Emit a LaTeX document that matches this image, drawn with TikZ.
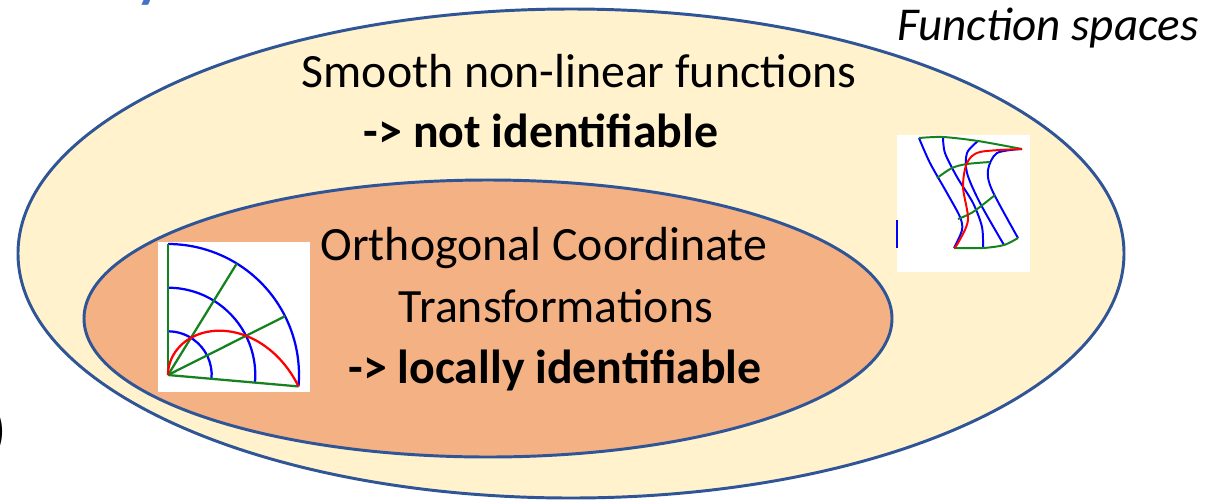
\documentclass[tikz,border=0pt]{standalone}
\usepackage{fontspec}
\setmainfont{Carlito}
\definecolor{edgeblue}{RGB}{47,85,151}
\definecolor{outerfill}{RGB}{255,242,204}
\definecolor{innerfill}{RGB}{244,177,131}
\definecolor{titleblue}{RGB}{68,114,196}
\definecolor{gridgreen}{RGB}{20,130,30}
\begin{document}
\begin{tikzpicture}[x=0.025cm,y=-0.025cm]
\clip (0,0) rectangle (1211,502);
\fill[white] (0,0) rectangle (1211,502);
\node[anchor=base, text=titleblue, font=\fontsize{40}{48}\selectfont\bfseries] (ttl) at (150,-4){y};
\node[anchor=east, inner sep=0pt, font=\fontsize{40}{48}\selectfont\bfseries] (paren) at (6,432){)};
\draw[edgeblue, line width=2.1pt, fill=outerfill] (571,253.5) ellipse [x radius=553, y radius=244.5];
\draw[edgeblue, line width=2.1pt, fill=innerfill] (488,318.5) ellipse [x radius=404, y radius=138.5];
\node[anchor=base, font=\fontsize{34}{40}\selectfont] (smooth) at (579,87){Smooth non-linear functions};
\node[anchor=base, font=\fontsize{34}{40}\selectfont\bfseries] (notid) at (541,147){-> not identifiable};
\node[anchor=base, font=\fontsize{34}{40}\selectfont] (orth) at (544,260){Orthogonal Coordinate};
\node[anchor=base, font=\fontsize{34}{40}\selectfont] (trans) at (556,322){Transformations};
\node[anchor=base, font=\fontsize{34}{40}\selectfont\bfseries] (locid) at (555,383){-> locally identifiable};
\node[anchor=base, font=\fontsize{33.5}{40}\selectfont\itshape] (fspaces) at (1048,40){Function spaces};
% polar grid
\fill[white] (158,242) rectangle (310,392);
\begin{scope}[shift={(168,375)}, y=0.025cm, line width=1.6pt]
\foreach \r in {43.7,87.3,131} \draw[blue] (-5:\r) arc[start angle=-5, end angle=90, radius=\r];
\foreach \a in {-5,26.67,58.33,90} \draw[gridgreen] (0,0) -- (\a:131);
\draw[red] plot[domain=-5:90, samples=50] (\x:{131*(90-\x)/95});
\end{scope}
% bent grid
\fill[white] (897,135) rectangle (1030,272);
\begin{scope}[line width=1.4pt]
\draw[blue] (897,220) -- (897,248);
\draw[blue] plot[smooth] coordinates {(919,138) (930,163) (947,193) (960,217) (962,230) (954,248)};
\draw[blue] plot[smooth] coordinates {(943,137) (945,153) (957,177) (973,203) (982,227) (983,248)};
\draw[blue] plot[smooth] coordinates {(978,141) (967,153) (967,173) (980,203) (1004,245)};
\draw[blue] plot[smooth] coordinates {(1022,149) (997,153) (988,170) (992,190) (1018,238)};
\draw[gridgreen] plot[smooth] coordinates {(919,138) (943,137) (978,141) (1022,149)};
\draw[gridgreen] plot[smooth] coordinates {(937,178) (952,168) (967,164) (990,162)};
\draw[gridgreen] plot[smooth] coordinates {(958,219) (973,212) (995,195)};
\draw[gridgreen] plot[smooth] coordinates {(954,248) (983,248) (1004,245) (1018,238)};
\draw[red] plot[smooth] coordinates {(1022,149) (980,152) (967,163) (963,187) (968,220) (958,243) (954,248)};
\end{scope}
\end{tikzpicture}
\end{document}
